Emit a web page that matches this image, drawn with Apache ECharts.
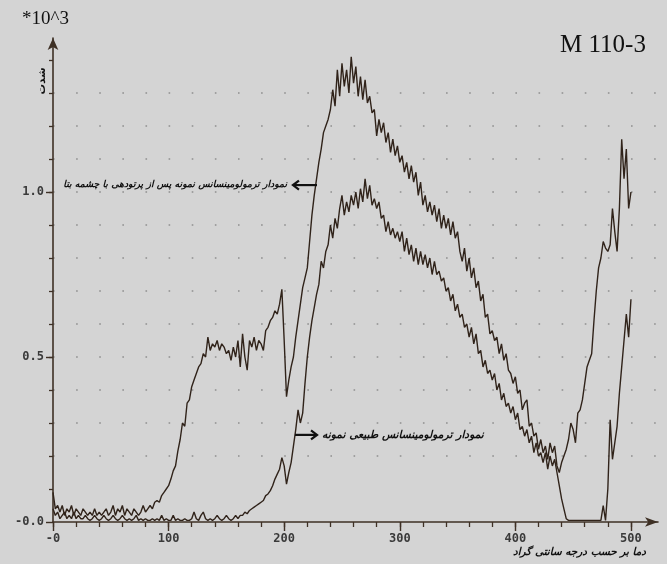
<!DOCTYPE html>
<html><head><meta charset="utf-8">
<script src="https://cdn.jsdelivr.net/npm/echarts@6/dist/echarts.min.js"></script>
<style>html,body{margin:0;padding:0;background:#d4d4d4;}#c{width:667px;height:564px;}</style>
</head><body><div id="c"></div>
<script>
// ---------- DATA ----------
const temperatures = [
0,2,4,6,8,10,12,14,16,18,
20,22,24,26,28,30,32,34,36,38,
40,42,44,46,48,50,52,54,56,58,
60,62,64,66,68,70,72,74,76,78,
80,82,84,86,88,90,92,94,96,98,
100,102,104,106,108,110,112,114,116,118,
120,122,124,126,128,130,132,134,136,138,
140,142,144,146,148,150,152,154,156,158,
160,162,164,166,168,170,172,174,176,178,
180,182,184,186,188,190,192,194,196,198,
200,202,204,206,208,210,212,214,216,218,
220,222,224,226,228,230,232,234,236,238,
240,242,244,246,248,250,252,254,256,258,
260,262,264,266,268,270,272,274,276,278,
280,282,284,286,288,290,292,294,296,298,
300,302,304,306,308,310,312,314,316,318,
320,322,324,326,328,330,332,334,336,338,
340,342,344,346,348,350,352,354,356,358,
360,362,364,366,368,370,372,374,376,378,
380,382,384,386,388,390,392,394,396,398,
400,402,404,406,408,410,412,414,416,418,
420,422,424,426,428,430,432,434,436,438,
440,442,444,446,448,450,452,454,456,458,
460,462,464,466,468,470,472,474,476,478,
480,482,484,486,488,490,492,494,496,498,
500];

// TL after beta irradiation (x10^3)
const irradiated = [
0.09,0.04,0.05,0.03,0.05,0.02,0.04,0.03,0.05,0.02,
0.04,0.03,0.02,0.04,0.03,0.02,0.03,0.02,0.04,0.02,
0.03,0.02,0.03,0.04,0.02,0.03,0.05,0.02,0.04,0.03,
0.05,0.02,0.04,0.03,0.02,0.04,0.03,0.02,0.03,0.05,
0.03,0.04,0.05,0.04,0.06,0.065,0.06,0.08,0.09,0.10,
0.11,0.13,0.155,0.17,0.215,0.25,0.30,0.29,0.36,0.37,
0.41,0.43,0.45,0.47,0.48,0.51,0.50,0.56,0.52,0.54,
0.53,0.55,0.52,0.54,0.53,0.51,0.52,0.49,0.53,0.50,
0.55,0.47,0.57,0.50,0.46,0.55,0.53,0.56,0.52,0.55,
0.54,0.52,0.58,0.59,0.61,0.62,0.64,0.63,0.66,0.705,
0.55,0.38,0.43,0.47,0.50,0.56,0.61,0.66,0.71,0.74,
0.77,0.85,0.93,0.99,1.04,1.09,1.13,1.18,1.20,1.22,
1.25,1.31,1.26,1.37,1.29,1.39,1.32,1.37,1.30,1.41,
1.33,1.38,1.29,1.35,1.28,1.34,1.27,1.29,1.24,1.25,
1.17,1.22,1.18,1.21,1.15,1.18,1.12,1.16,1.11,1.14,
1.09,1.11,1.06,1.09,1.04,1.08,1.03,1.06,0.99,1.03,
0.96,0.99,0.94,0.97,0.93,0.96,0.91,0.95,0.89,0.93,
0.89,0.92,0.87,0.91,0.86,0.88,0.82,0.79,0.83,0.76,
0.80,0.74,0.77,0.71,0.73,0.67,0.69,0.62,0.63,0.57,
0.58,0.55,0.56,0.51,0.54,0.49,0.51,0.46,0.45,0.42,
0.44,0.39,0.40,0.34,0.36,0.37,0.29,0.30,0.26,0.27,
0.22,0.25,0.21,0.23,0.19,0.24,0.21,0.23,0.17,0.15,
0.18,0.20,0.22,0.25,0.30,0.28,0.24,0.33,0.34,0.37,
0.42,0.47,0.49,0.51,0.61,0.70,0.77,0.80,0.85,0.83,
0.82,0.84,0.95,0.88,0.82,0.95,1.16,1.04,1.13,0.95,
1.00];

// natural TL (x10^3)
const natural = [
0.04,0.02,0.03,0.01,0.02,0.03,0.01,0.02,0.01,0.03,
0.01,0.02,0.01,0.01,0.02,0.01,0.005,0.01,0.02,0.01,
0.005,0.01,0.02,0.01,0.005,0.01,0.02,0.01,0.005,0.01,
0.02,0.01,0.005,0.01,0.005,0.01,0.02,0.005,0.01,0.005,
0.01,0.005,0.005,0.01,0.005,0.01,0.005,0.02,0.005,0.01,
0.005,0.005,0.02,0.005,0.01,0.005,0.005,0.01,0.005,0.005,
0.01,0.03,0.01,0.005,0.02,0.03,0.01,0.005,0.01,0.005,
0.01,0.02,0.01,0.005,0.01,0.02,0.01,0.005,0.01,0.02,
0.01,0.02,0.02,0.03,0.025,0.035,0.04,0.045,0.05,0.055,
0.06,0.065,0.08,0.085,0.095,0.11,0.13,0.145,0.16,0.195,
0.17,0.115,0.15,0.18,0.23,0.28,0.34,0.30,0.33,0.42,
0.50,0.56,0.61,0.65,0.69,0.72,0.79,0.77,0.82,0.84,
0.90,0.86,0.92,0.89,0.95,0.99,0.93,0.97,0.94,0.99,
0.96,1.00,0.95,1.01,0.97,1.04,0.98,1.02,0.96,0.98,
0.95,0.97,0.92,0.93,0.88,0.91,0.87,0.89,0.86,0.88,
0.85,0.88,0.82,0.86,0.81,0.84,0.79,0.83,0.78,0.82,
0.78,0.81,0.77,0.80,0.75,0.79,0.75,0.76,0.73,0.74,
0.70,0.71,0.67,0.69,0.64,0.66,0.62,0.63,0.59,0.60,
0.56,0.59,0.54,0.57,0.51,0.52,0.47,0.49,0.45,0.46,
0.43,0.45,0.40,0.42,0.37,0.39,0.35,0.36,0.33,0.35,
0.31,0.33,0.28,0.29,0.26,0.28,0.24,0.26,0.21,0.24,
0.20,0.21,0.18,0.21,0.16,0.20,0.17,0.19,0.15,0.11,
0.07,0.04,0.01,0.005,0.005,0.005,0.005,0.005,0.005,0.005,
0.005,0.005,0.005,0.005,0.005,0.005,0.005,0.005,0.05,0.005,
0.10,0.31,0.19,0.24,0.29,0.39,0.47,0.55,0.63,0.56,
0.675];

const xTickValues = [0,20,40,60,80,100,120,140,160,180,200,220,240,260,280,300,320,340,360,380,400,420,440,460,480,500];
const xLabelValues = [0,100,200,300,400,500];
const yTickValues = [0.1,0.2,0.3,0.4,0.5,0.6,0.7,0.8,0.9,1.0,1.1,1.2,1.3,1.4];
const yLabelValues = [0,0.5,1.0];

const irradiatedLabel = 'نمودار ترمولومینسانس نمونه پس از پرتودهی با چشمه بتا';
const naturalLabel = 'نمودار ترمولومینسانس طبیعی نمونه';
const xAxisTitle = 'دما بر حسب درجه سانتی گراد';
const yAxisTitle = 'شدت';
const scaleNote = '*10^3';
const sampleId = 'M 110-3';

// ---------- CHART ----------
const AX = '#3e3025';
const CURVE = '#30231a';
const labelFont = {fontFamily:'DejaVu Sans Mono', fontWeight:'bold', fontSize:12, color:'#3a3a3a'};
const X_MAX = 523.4, Y_MAX = 1.4667;
const gridRect = {left:53, right:9, top:38, bottom:42};

const chart = echarts.init(document.getElementById('c'), null, {renderer:'canvas'});

const option = {
  backgroundColor:'#d4d4d4',
  animation:false,
  grid:[Object.assign({}, gridRect), Object.assign({}, gridRect)],
  xAxis:[{
    type:'value', gridIndex:0, min:0, max:X_MAX, interval:20,
    axisLine:{show:true, onZero:false, symbol:['none','arrow'], symbolSize:[7,13], lineStyle:{color:AX, width:1.6}},
    axisTick:{show:true, length:5, customValues:xTickValues, lineStyle:{color:AX, width:1.3}},
    axisLabel:Object.assign({customValues:xLabelValues, margin:11, formatter:v=> v===0 ? '-0' : String(v)}, labelFont),
    splitLine:{show:false}
  },{
    type:'value', gridIndex:1, min:0, max:X_MAX, interval:100,
    axisLine:{show:false, onZero:false},
    axisTick:{show:true, length:9, customValues:xLabelValues, lineStyle:{color:AX, width:1.4}},
    axisLabel:{show:false}, splitLine:{show:false}
  }],
  yAxis:[{
    type:'value', gridIndex:0, min:0, max:Y_MAX, interval:0.1,
    axisLine:{show:true, onZero:false, symbol:['none','arrow'], symbolSize:[8,12], lineStyle:{color:AX, width:1.6}},
    axisTick:{show:true, length:4, customValues:yTickValues, lineStyle:{color:AX, width:1.3}},
    axisLabel:Object.assign({customValues:yLabelValues, margin:9, formatter:v=> v===0 ? '-0.0' : v.toFixed(1)}, labelFont),
    splitLine:{show:true, showMinLine:false, showMaxLine:false, lineStyle:{color:'#8e8e8e', width:1.6, type:[1.6,21.52]}}
  },{
    type:'value', gridIndex:1, min:0, max:Y_MAX, interval:0.5,
    axisLine:{show:false, onZero:false},
    axisTick:{show:true, length:7, customValues:yLabelValues, lineStyle:{color:AX, width:1.4}},
    axisLabel:{show:false}, splitLine:{show:false}
  }],
  series:[
    {name:irradiatedLabel, type:'line', xAxisIndex:0, yAxisIndex:0, showSymbol:false, symbol:'none', data:temperatures.map((t,i)=>[t, irradiated[i]]), lineStyle:{color:CURVE, width:1.4}, z:3},
    {name:naturalLabel, type:'line', xAxisIndex:0, yAxisIndex:0, showSymbol:false, symbol:'none', data:temperatures.map((t,i)=>[t, natural[i]]), lineStyle:{color:CURVE, width:1.4}, z:3}
  ]
};
chart.setOption(option);

// ---------- ANNOTATIONS ----------
function fitSize(text, target, family, weight, style){
  const ctx = document.createElement('canvas').getContext('2d');
  ctx.font = style + ' ' + weight + ' 100px ' + family;
  return 100 * target / ctx.measureText(text).width;
}
const AR = "'DejaVu Sans'";
const annot = {
  irr:{head:[207.6,1.021], tail:[228.4,1.021], textRight:287, textLeft:63},
  nat:{tail:[209.3,0.264], head:[228.4,0.264], textLeft:322, textRight:484}
};
function px(p){ return chart.convertToPixel({gridIndex:0}, p); }
function arrow(tail, head){
  const t = px(tail), h = px(head);
  const dir = h[0] > t[0] ? 1 : -1;
  return [
    {type:'line', shape:{x1:t[0], y1:t[1], x2:h[0]-dir*1, y2:h[1]}, style:{stroke:'#111', lineWidth:2.2}, z:10},
    {type:'polyline', shape:{points:[[h[0]-dir*6, h[1]-4.5],[h[0], h[1]],[h[0]-dir*6, h[1]+4.5]]}, style:{stroke:'#111', lineWidth:2.2, fill:null}, z:10}
  ];
}
const a1 = px(annot.irr.head), a2 = px(annot.nat.head);
const s1 = fitSize(irradiatedLabel, annot.irr.textRight-annot.irr.textLeft, AR, 'bold', 'italic');
const s2 = fitSize(naturalLabel, annot.nat.textRight-annot.nat.textLeft, AR, 'bold', 'italic');
const s3 = fitSize(xAxisTitle, 133, AR, 'bold', 'italic');
const s4 = fitSize(yAxisTitle, 27, AR, 'bold', 'normal');

const graphics = [
  {type:'text', x:22, y:19, style:{text:scaleNote, font:'19px "Liberation Serif"', fill:'#111', verticalAlign:'middle'}, z:10},
  {type:'text', x:560, y:45, style:{text:sampleId, font:'25px "Liberation Serif"', fill:'#111', verticalAlign:'middle'}, z:10},
  {type:'text', x:42, y:81, rotation:Math.PI/2, style:{text:yAxisTitle, font:'bold '+s4.toFixed(2)+'px '+AR, fill:'#111', align:'center', verticalAlign:'middle'}, z:10},
  {type:'text', x:646, y:552, style:{text:xAxisTitle, font:'italic bold '+s3.toFixed(2)+'px '+AR, fill:'#111', align:'right', verticalAlign:'middle'}, z:10},
  {type:'text', x:annot.irr.textRight, y:a1[1], style:{text:irradiatedLabel, font:'italic bold '+s1.toFixed(2)+'px '+AR, fill:'#111', align:'right', verticalAlign:'middle'}, z:10},
  {type:'text', x:annot.nat.textLeft, y:a2[1], style:{text:naturalLabel, font:'italic bold '+s2.toFixed(2)+'px '+AR, fill:'#111', align:'left', verticalAlign:'middle'}, z:10}
].concat(arrow(annot.irr.tail, annot.irr.head), arrow(annot.nat.tail, annot.nat.head));

chart.setOption({graphic:graphics});
</script></body></html>
